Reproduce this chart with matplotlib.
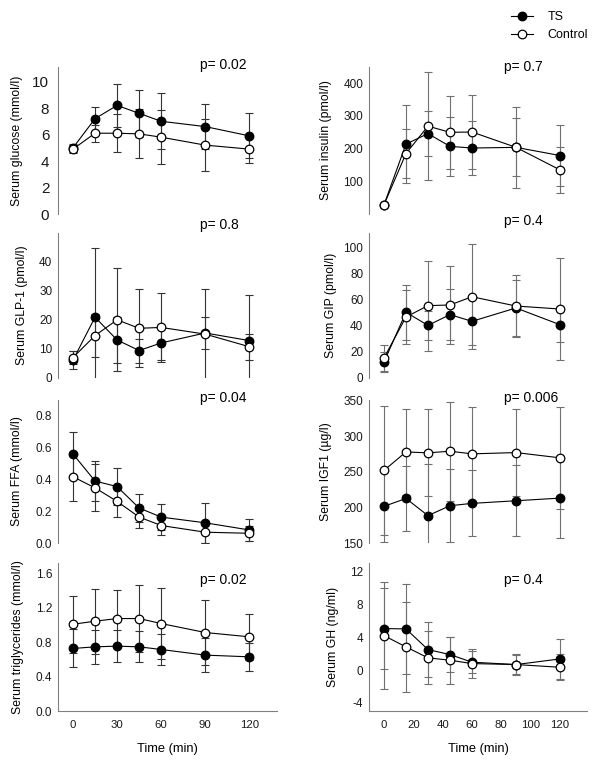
import matplotlib
matplotlib.use('Agg')
import matplotlib.pyplot as plt

plt.rcParams['font.family'] = ['Liberation Sans', 'DejaVu Sans']

times = [0, 15, 30, 45, 60, 90, 120]

glucose_ts = [5.0, 7.2, 8.2, 7.6, 7.0, 6.6, 5.9]
glucose_ts_sd = [0.3, 0.9, 1.6, 1.8, 2.1, 1.7, 1.7]
glucose_ctl = [4.9, 6.1, 6.1, 6.05, 5.8, 5.2, 4.9]
glucose_ctl_sd = [0.3, 0.65, 1.45, 1.85, 2.05, 1.95, 1.05]

insulin_ts = [28, 214, 246, 207, 202, 204, 179]
insulin_ts_sd = [5, 120, 69, 91, 84, 89, 94]
insulin_ctl = [28, 185, 269, 250, 251, 204, 135]
insulin_ctl_sd = [5, 76, 166, 111, 112, 123, 70]

glp1_ts = [6.1, 20.8, 13.0, 9.4, 12.0, 15.4, 12.8]
glp1_ts_sd = [3.0, 23.8, 7.7, 4.1, 5.9, 5.5, 15.5]
glp1_ctl = [7.0, 14.5, 19.9, 17.0, 17.3, 15.0, 10.7]
glp1_ctl_sd = [2.3, 7.3, 17.6, 13.3, 11.8, 15.6, 4.4]

gip_ts = [12.2, 50.3, 40.3, 48.5, 43.4, 53.6, 40.8]
gip_ts_sd = [7.4, 21, 11, 19.5, 18, 21.7, 13.2]
gip_ctl = [15.3, 46.7, 55.4, 55.9, 62.2, 55.1, 52.8]
gip_ctl_sd = [9.7, 21, 34.4, 30, 40, 23.5, 39]

ffa_ts = [0.56, 0.39, 0.355, 0.22, 0.163, 0.127, 0.082]
ffa_ts_sd = [0.138, 0.123, 0.114, 0.089, 0.084, 0.125, 0.068]
ffa_ctl = [0.417, 0.347, 0.262, 0.163, 0.11, 0.068, 0.061]
ffa_ctl_sd = [0.151, 0.148, 0.1, 0.07, 0.059, 0.068, 0.048]

igf1_ts = [201.5, 212.6, 188.5, 202.4, 205.7, 209.4, 213.1]
igf1_ts_sd = [50, 45.4, 72.5, 51, 46.5, 49.6, 55.7]
igf1_ctl = [252, 278, 276.7, 279, 275.3, 277.1, 269.7]
igf1_ctl_sd = [91, 60, 61.3, 69.6, 66, 61, 72]

tg_ts = [0.725, 0.744, 0.752, 0.744, 0.713, 0.648, 0.628]
tg_ts_sd = [0.22, 0.2, 0.182, 0.18, 0.18, 0.2, 0.165]
tg_ctl = [1.006, 1.041, 1.072, 1.072, 1.014, 0.91, 0.86]
tg_ctl_sd = [0.328, 0.378, 0.328, 0.385, 0.416, 0.38, 0.27]

gh_ts = [5.08, 5.04, 2.51, 1.9, 0.97, 0.68, 1.37]
gh_ts_sd = [4.97, 5.46, 3.38, 2.16, 1.35, 1.15, 2.48]
gh_ctl = [4.22, 2.84, 1.5, 1.21, 0.8, 0.68, 0.35]
gh_ctl_sd = [6.51, 5.49, 3.25, 2.9, 1.8, 1.25, 1.6]

p_values = ['p= 0.02', 'p= 0.7', 'p= 0.8', 'p= 0.4',
            'p= 0.04', 'p= 0.006', 'p= 0.02', 'p= 0.4']

W, H = 600, 769
fig = plt.figure(figsize=(6, 7.69), dpi=100)

# pixel boxes of each row (top, bottom) and column (left, right)
rows = [(67, 214), (233, 378), (400, 543), (563, 711)]
cols = [(58.3, 276.7), (369.3, 587.3)]


def make_ax(r, c):
    t, b = rows[r]
    l, rr = cols[c]
    return fig.add_axes([l / W, 1 - b / H, (rr - l) / W, (b - t) / H])


def panel(ax, ts, ts_sd, ctl, ctl_sd, ylabel, ylim, yticks, fmt, ecolor, label_x,
          tick_size=8.5, tick_pad=4.3, bottom=False, xticks=None):
    ax.errorbar(times, ts, yerr=ts_sd, fmt='none', ecolor=ecolor,
                elinewidth=0.8, capsize=3.2, capthick=0.8, zorder=1)
    ax.errorbar(times, ctl, yerr=ctl_sd, fmt='none', ecolor=ecolor,
                elinewidth=0.8, capsize=3.2, capthick=0.8, zorder=1)
    ax.plot(times, ts, '-o', color='black', lw=0.8, ms=6.2,
            mfc='black', mec='black', mew=0.9, zorder=3, label='TS')
    ax.plot(times, ctl, '-o', color='black', lw=0.8, ms=6.2,
            mfc='white', mec='black', mew=0.9, zorder=3, label='Control')
    ax.set_xlim(-10, 138.6)
    ax.set_ylim(*ylim)
    ax.set_yticks(yticks)
    ax.set_yticklabels([fmt % v for v in yticks])
    for s in ['top', 'right']:
        ax.spines[s].set_visible(False)
    ax.spines['left'].set_color('#808080')
    ax.spines['bottom'].set_color('#808080')
    ax.tick_params(axis='y', length=0, pad=tick_pad, labelsize=tick_size, colors='#1a1a1a')
    if bottom:
        ax.set_xticks(xticks)
        ax.tick_params(axis='x', length=0, pad=6.5, labelsize=8.2, colors='#1a1a1a')
        ax.set_xlabel('Time (min)', fontsize=9.3, labelpad=9)
    else:
        ax.spines['bottom'].set_visible(False)
        ax.set_xticks([])
    ax.set_ylabel(ylabel, fontsize=8.8, va='center')
    ax.yaxis.set_label_coords(label_x, 0.5)


left_ec = '#333333'
right_ec = '#707070'

ax = make_ax(0, 0)
panel(ax, glucose_ts, glucose_ts_sd, glucose_ctl, glucose_ctl_sd,
      'Serum glucose (mmol/l)', (0, 11.1), [0, 2, 4, 6, 8, 10], '%d', left_ec,
      -0.190, tick_size=11, tick_pad=6.5)

ax = make_ax(0, 1)
panel(ax, insulin_ts, insulin_ts_sd, insulin_ctl, insulin_ctl_sd,
      'Serum insulin (pmol/l)', (0, 450), [100, 200, 300, 400], '%d', right_ec,
      -0.199)

ax = make_ax(1, 0)
panel(ax, glp1_ts, glp1_ts_sd, glp1_ctl, glp1_ctl_sd,
      'Serum GLP-1 (pmol/l)', (0, 49.6), [0, 10, 20, 30, 40], '%d', left_ec,
      -0.164)

ax = make_ax(1, 1)
panel(ax, gip_ts, gip_ts_sd, gip_ctl, gip_ctl_sd,
      'Serum GIP (pmol/l)', (0, 111), [0, 20, 40, 60, 80, 100], '%d', right_ec,
      -0.176)

ax = make_ax(2, 0)
panel(ax, ffa_ts, ffa_ts_sd, ffa_ctl, ffa_ctl_sd,
      'Serum FFA (mmol/l)', (0, 0.9), [0, 0.2, 0.4, 0.6, 0.8], '%.1f', left_ec,
      -0.187)

ax = make_ax(2, 1)
panel(ax, igf1_ts, igf1_ts_sd, igf1_ctl, igf1_ctl_sd,
      'Serum IGF1 (µg/l)', (150, 351), [150, 200, 250, 300, 350], '%d', right_ec,
      -0.199)

ax = make_ax(3, 0)
panel(ax, tg_ts, tg_ts_sd, tg_ctl, tg_ctl_sd,
      'Serum triglycerides (mmol/l)', (0, 1.716), [0, 0.4, 0.8, 1.2, 1.6], '%.1f',
      left_ec, -0.186, bottom=True, xticks=[0, 30, 60, 90, 120])

ax = make_ax(3, 1)
panel(ax, gh_ts, gh_ts_sd, gh_ctl, gh_ctl_sd,
      'Serum GH (ng/ml)', (-5, 13.1), [-4, 0, 4, 8, 12], '%d', right_ec,
      -0.167, bottom=True, xticks=[0, 20, 40, 60, 80, 100, 120])
handles, labels = ax.get_legend_handles_labels()

# p-values
p_pos = [(200, 65), (504, 67), (200, 225), (504, 221),
         (200, 398), (504, 398), (200, 580), (504, 580)]
for txt, (px, py) in zip(p_values, p_pos):
    fig.text(px / W, 1 - py / H, txt, fontsize=10, ha='left', va='center')

fig.legend(handles, labels, loc='upper left', bbox_to_anchor=(505 / W, 1 - 5 / H),
           frameon=False, fontsize=9, handlelength=1.7, handletextpad=1.2,
           labelspacing=0.45, borderpad=0)

fig.savefig('out.png', dpi=100)
